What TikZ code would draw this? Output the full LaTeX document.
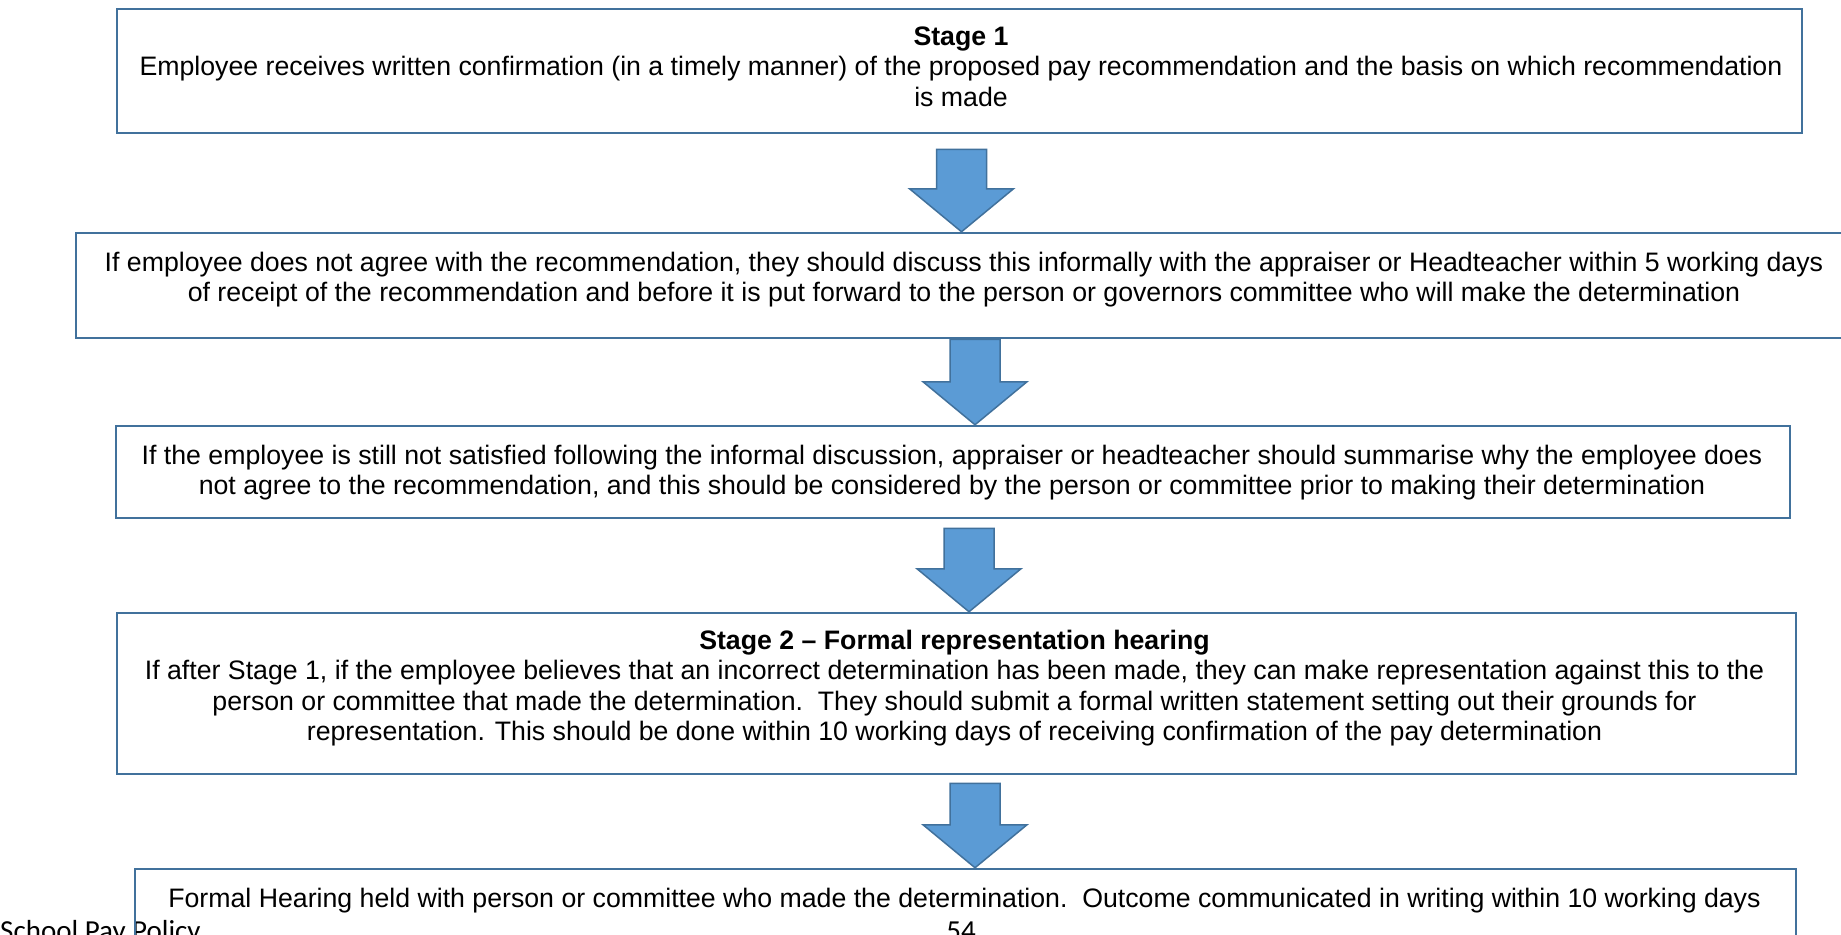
\documentclass[tikz,border=0pt]{standalone}
\usepackage{fontspec}
\setmainfont{Liberation Sans}
\newfontfamily\calibri{Carlito}
\usetikzlibrary{calc}
\definecolor{edge}{HTML}{41719C}
\definecolor{afill}{HTML}{5B9BD5}
\tikzset{
  box/.style={draw=edge, line width=2.5pt, fill=white, inner sep=0pt},
  txt/.style={align=center, font=\fontsize{26.7}{30.5}\selectfont, inner sep=0pt},
  barrow/.style={draw=edge, fill=afill, line width=1.5pt, line join=miter},
  foot/.style={font=\calibri\fontsize{29}{32}\selectfont, inner sep=0pt, anchor=base west},
}
\newcommand\blockarrow[2]{%
  \draw[barrow] let \p1=(#1), \p2=(#2) in
    (\x1-25pt,\y1) -- (\x1+25pt,\y1) -- (\x1+25pt,\y2+43pt) -- (\x1+52pt,\y2+43pt)
    -- (\x1,\y2) -- (\x1-52pt,\y2+43pt) -- (\x1-25pt,\y2+43pt) -- cycle;}
\begin{document}
\begin{tikzpicture}[x=1pt,y=-1pt]
\useasboundingbox (0,0) rectangle (1841,934);
\clip (0,0) rectangle (1841,934);
\fill[white] (0,0) rectangle (1841,934);
% footer (under box 5)
\node[foot] (fl) at (0,940) {School Pay Policy};
\node[foot, anchor=base] (fn) at (961,940) {54};
% boxes
\node[box, minimum width=1685pt, minimum height=124pt] (b1) at (959.5,71) {};
\node[box, minimum width=1769pt, minimum height=105pt] (b2) at (960.5,285.5) {};
\node[box, minimum width=1674pt, minimum height=92pt] (b3) at (953,472) {};
\node[box, minimum width=1679pt, minimum height=161pt] (b4) at (956.5,693.5) {};
\node[box, minimum width=1661pt, minimum height=91pt, fill=none] (b5) at (965.5,914.5) {};
% texts
\node[txt] (t1) at ($(b1.center)+(1.5,-4.5)$) {\textbf{Stage 1}\\Employee receives written confirmation (in a timely manner) of the proposed pay recommendation and the basis on which recommendation\\is made};
\node[txt] (t2) at ($(b2.center)+(3.5,-6)$) {If employee does not agree with the recommendation, they should discuss this informally with the appraiser or Headteacher within 5 working days\\of receipt of the recommendation and before it is put forward to the person or governors committee who will make the determination};
\node[txt] (t3) at ($(b3.center)+(-1,0.5)$) {If the employee is still not satisfied following the informal discussion, appraiser or headteacher should summarise why the employee does\\not agree to the recommendation, and this should be considered by the person or committee prior to making their determination};
\node[txt] (t4) at ($(b4.center)+(-2,-5.5)$) {\textbf{Stage 2 -- Formal representation hearing}\\If after Stage 1, if the employee believes that an incorrect determination has been made, they can make representation against this to the\\person or committee that made the determination.\ \ They should submit a formal written statement setting out their grounds for\\representation. This should be done within 10 working days of receiving confirmation of the pay determination};
\node[txt, anchor=base] (t5) at (964.5,907) {Formal Hearing held with person or committee who made the determination.\ \ Outcome communicated in writing within 10 working days};
% arrows
\coordinate (a1s) at ($(b1.south)+(2,15)$);
\coordinate (a1e) at (a1s |- b2.north);
\coordinate (a2s) at ($(b2.south)+(14.5,0)$);
\coordinate (a2e) at (a2s |- b3.north);
\coordinate (a3s) at ($(b3.south)+(16,9)$);
\coordinate (a3e) at (a3s |- b4.north);
\coordinate (a4s) at ($(b4.south)+(18.5,8)$);
\coordinate (a4e) at (a4s |- b5.north);
\blockarrow{a1s}{a1e}
\blockarrow{a2s}{a2e}
\blockarrow{a3s}{a3e}
\blockarrow{a4s}{a4e}
\end{tikzpicture}
\end{document}
